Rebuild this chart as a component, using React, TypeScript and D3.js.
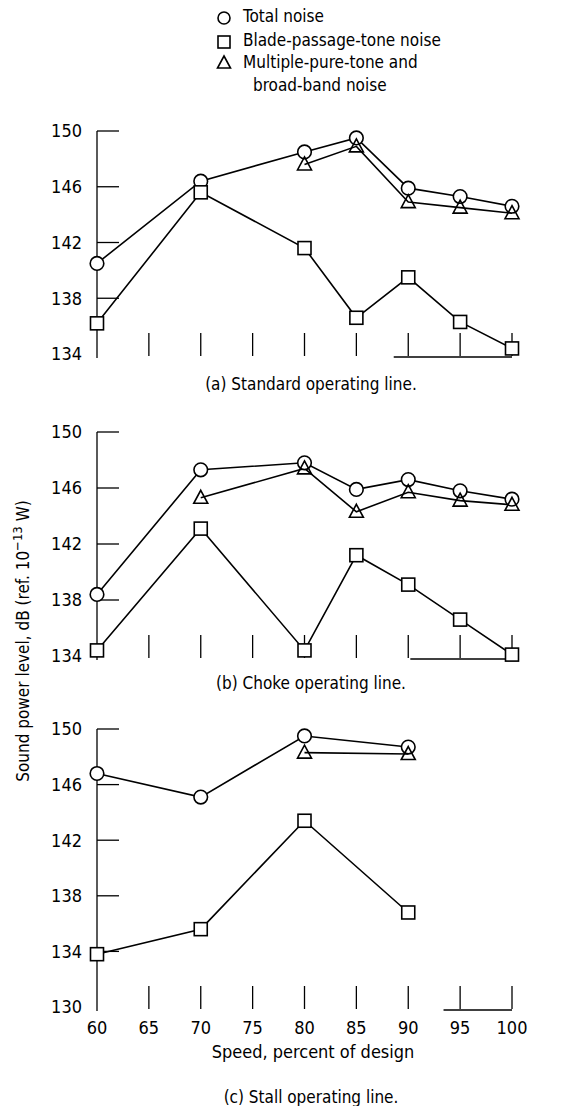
import React from 'react'
import { scaleLinear, line } from 'd3'

// speeds, percent of design
const speeds = [60, 70, 80, 85, 90, 95, 100]
const mptSpeedsA = [80, 85, 90, 95, 100]
const mptSpeedsB = [70, 80, 85, 90, 95, 100]
const stallSpeeds = [60, 70, 80, 90]
const mptSpeedsC = [80, 90]

// (a) standard operating line
const totalA = [140.5, 146.4, 148.5, 149.5, 145.9, 145.3, 144.6]
const bladeA = [136.2, 145.6, 141.6, 136.6, 139.5, 136.3, 134.4]
const mptA = [147.6, 148.9, 144.9, 144.5, 144.1]

// (b) choke operating line
const totalB = [138.4, 147.3, 147.8, 145.9, 146.6, 145.8, 145.2]
const bladeB = [134.4, 143.1, 134.4, 141.2, 139.1, 136.6, 134.1]
const mptB = [145.3, 147.4, 144.3, 145.7, 145.1, 144.8]

// (c) stall operating line
const totalC = [146.8, 145.1, 149.5, 148.7]
const bladeC = [133.8, 135.6, 143.4, 136.8]
const mptC = [148.3, 148.2]

const xTicks = [60, 65, 70, 75, 80, 85, 90, 95, 100]
const yTicksAB = [150, 146, 142, 138, 134]
const yTicksC = [150, 146, 142, 138, 134, 130]

const FONT = "'Liberation Sans Narrow', 'DejaVu Sans Condensed', 'Liberation Sans', sans-serif"

const x = scaleLinear().domain([60, 100]).range([97, 512])

const zip = (xs: number[], ys: number[]) => xs.map((s, i) => [s, ys[i]] as [number, number])

function Panel({ top, bottom, domain, yTicks, total, blade, mpt, caption, captionY, baseStart, showXLabels }: any) {
  const y = scaleLinear().domain(domain).range([bottom, top])
  const path = line<[number, number]>().x(d => x(d[0])).y(d => y(d[1]))
  const tickLen = 22
  // the lowest label of each panel has no tick mark
  const ticked = yTicks.slice(0, -1)
  return (
    <g>
      {/* y axis */}
      <line x1={x(60)} x2={x(60)} y1={y(domain[1])} y2={bottom + 4} stroke="#000" strokeWidth={1.3} />
      {ticked.map((t: number) => (
        <line key={'yt' + t} x1={x(60)} x2={x(60) + tickLen} y1={y(t)} y2={y(t)} stroke="#000" strokeWidth={1.3} />
      ))}
      {yTicks.map((t: number) => (
        <text key={t} x={82} y={y(t)} dy="0.35em" textAnchor="end" fontSize={18} fontFamily={FONT}>{t}</text>
      ))}
      {/* x ticks */}
      {xTicks.filter(t => t !== 60).map(t => (
        <line key={t} x1={x(t)} x2={x(t)} y1={bottom - 21} y2={bottom + 2} stroke="#000" strokeWidth={1.3} />
      ))}
      <line x1={x(baseStart)} x2={x(100)} y1={bottom + 3} y2={bottom + 3} stroke="#000" strokeWidth={1.3} />
      {showXLabels && xTicks.map(t => (
        <text key={t} x={x(t)} y={bottom + 21} dy="0.35em" textAnchor="middle" fontSize={18} fontFamily={FONT}>{t}</text>
      ))}
      {/* series lines */}
      <path d={path(zip(total.s, total.v)) || ''} fill="none" stroke="#000" strokeWidth={1.6} />
      <path d={path(zip(blade.s, blade.v)) || ''} fill="none" stroke="#000" strokeWidth={1.6} />
      <path d={path(zip(mpt.s, mpt.v)) || ''} fill="none" stroke="#000" strokeWidth={1.6} />
      {/* markers */}
      {zip(total.s, total.v).map((d, i) => (
        <circle key={'c' + i} cx={x(d[0])} cy={y(d[1])} r={6.8} fill="#fff" stroke="#000" strokeWidth={1.6} />
      ))}
      {zip(blade.s, blade.v).map((d, i) => (
        <rect key={'s' + i} x={x(d[0]) - 6.5} y={y(d[1]) - 6.5} width={13} height={13} fill="#fff" stroke="#000" strokeWidth={1.6} />
      ))}
      {zip(mpt.s, mpt.v).map((d, i) => (
        <path key={'t' + i} transform={`translate(${x(d[0])},${y(d[1])})`} d="M0,-7.5L7,5.5L-7,5.5Z" fill="none" stroke="#000" strokeWidth={1.6} />
      ))}
      <text x={311} y={captionY} dy="0.35em" textAnchor="middle" fontSize={17} fontFamily={FONT}>{caption}</text>
    </g>
  )
}

export default function App() {
  return (
    <svg width={582} height={1106} style={{ position: 'absolute', left: 0, top: 0, background: '#fff' }}>
      {/* legend */}
      <g fontFamily={FONT} fontSize={17}>
        <circle cx={224} cy={18} r={6} fill="none" stroke="#000" strokeWidth={1.6} />
        <text x={243} y={16} dy="0.35em">Total noise</text>
        <rect x={218} y={36} width={12} height={12} fill="none" stroke="#000" strokeWidth={1.6} />
        <text x={243} y={40} dy="0.35em">Blade-passage-tone noise</text>
        <path transform="translate(224,63)" d="M0,-7L6.5,5L-6.5,5Z" fill="none" stroke="#000" strokeWidth={1.6} />
        <text x={243} y={62} dy="0.35em">Multiple-pure-tone and</text>
        <text x={253} y={85} dy="0.35em">broad-band noise</text>
      </g>

      <Panel top={131} bottom={354} domain={[134, 150]} yTicks={yTicksAB}
        total={{ s: speeds, v: totalA }} blade={{ s: speeds, v: bladeA }} mpt={{ s: mptSpeedsA, v: mptA }}
        caption="(a) Standard operating line." captionY={384} baseStart={88.6} showXLabels={false} />
      <Panel top={432} bottom={656} domain={[134, 150]} yTicks={yTicksAB}
        total={{ s: speeds, v: totalB }} blade={{ s: speeds, v: bladeB }} mpt={{ s: mptSpeedsB, v: mptB }}
        caption="(b) Choke operating line." captionY={683} baseStart={90.2} showXLabels={false} />
      <Panel top={729} bottom={1007} domain={[130, 150]} yTicks={yTicksC}
        total={{ s: stallSpeeds, v: totalC }} blade={{ s: stallSpeeds, v: bladeC }} mpt={{ s: mptSpeedsC, v: mptC }}
        caption="(c) Stall operating line." captionY={1097} baseStart={93.4} showXLabels={true} />

      <text x={313} y={1052} dy="0.35em" textAnchor="middle" fontSize={18} fontFamily={FONT}>Speed, percent of design</text>

      <text transform="translate(29,641) rotate(-90)" textAnchor="middle" fontSize={17} fontFamily={FONT}>
        Sound power level, dB (ref. 10<tspan dy={-7} fontSize={13}>−13</tspan><tspan dy={7}> W)</tspan>
      </text>
    </svg>
  )
}
